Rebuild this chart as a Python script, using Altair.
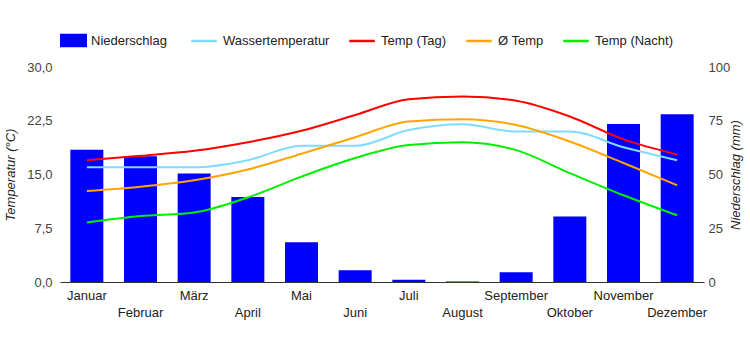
import altair as alt
import pandas as pd

months = ["Januar", "Februar", "März", "April", "Mai", "Juni", "Juli",
          "August", "September", "Oktober", "November", "Dezember"]
niederschlag = [61.5, 58.5, 50.5, 39.5, 18.5, 5.5, 1.0, 0.2, 4.5, 30.5, 73.5, 78.0]
wasser = [16.0, 16.0, 16.0, 17.0, 19.0, 19.0, 21.2, 22.0, 21.0, 21.0, 18.8, 17.0]
temp_tag = [17.0, 17.6, 18.3, 19.5, 21.1, 23.3, 25.5, 25.9, 25.3, 23.1, 19.9, 17.8]
temp_avg = [12.7, 13.3, 14.2, 15.7, 17.9, 20.2, 22.4, 22.7, 21.9, 19.6, 16.6, 13.5]
temp_nacht = [8.3, 9.2, 9.7, 11.8, 14.7, 17.3, 19.1, 19.5, 18.4, 15.2, 12.1, 9.3]

line_series = ["Wassertemperatur", "Temp (Tag)", "Ø Temp", "Temp (Nacht)"]
line_colors = ["#80dcff", "#ff0000", "#ffa500", "#00ee00"]
left_ticks = [0, 7.5, 15, 22.5, 30]
right_ticks = [0, 25, 50, 75, 100]

FONT = "Liberation Sans"

bar_df = pd.DataFrame({"Monat": months, "idx": list(range(12)),
                       "Wert": niederschlag, "Serie": ["Niederschlag"] * 12})

rows = []
for name, vals in zip(line_series, [wasser, temp_tag, temp_avg, temp_nacht]):
    for i, (m, v) in enumerate(zip(months, vals)):
        rows.append({"Monat": m, "idx": i, "Wert": v, "Serie": name})
line_df = pd.DataFrame(rows)

even_months = months[1::2]
x_label_expr = ("indexof(" + str(even_months).replace('"', "'") +
                ", datum.label) >= 0 ? ['', datum.label] : datum.label")

x_enc = alt.X(
    "Monat:N", sort=months, title=None,
    scale=alt.Scale(paddingInner=0, paddingOuter=0),
    axis=alt.Axis(labelAngle=0, ticks=False, domain=True, domainColor="#333",
                  domainWidth=1, labelPadding=7, labelFont=FONT, labelFontSize=13,
                  labelColor="#222", labelExpr=x_label_expr, labelLineHeight=17,
                  labelBaseline="top", grid=False),
)

bars = alt.Chart(bar_df).mark_bar(width=33).encode(
    x=x_enc,
    y=alt.Y("Wert:Q", scale=alt.Scale(domain=[0, 100], nice=False),
            axis=alt.Axis(orient="right", values=right_ticks, grid=False, ticks=False,
                          domain=False, labelPadding=4, labelFont=FONT, labelFontSize=13,
                          labelColor="#444", title="Niederschlag (mm)", titleFont=FONT,
                          titleFontSize=13, titleFontStyle="italic", titleFontWeight="normal",
                          titleColor="#222", titleAngle=270, titlePadding=13)),
    fill=alt.Fill("Serie:N", scale=alt.Scale(domain=["Niederschlag"], range=["#0000ff"]),
                  legend=alt.Legend(orient="none", legendX=0, legendY=-40, title=None,
                                    symbolType="M-1,-0.5H1V0.5H-1Z", symbolSize=729,
                                    symbolStrokeWidth=0, labelFont=FONT, labelFontSize=13,
                                    labelColor="#222", labelOffset=4)),
)

lines = alt.Chart(line_df).mark_line(interpolate="monotone", strokeWidth=2).encode(
    x=x_enc,
    y=alt.Y("Wert:Q", scale=alt.Scale(domain=[0, 30], nice=False),
            axis=alt.Axis(orient="left", values=left_ticks, ticks=False, domain=False,
                          gridColor="#cccccc", labelPadding=8, labelFont=FONT,
                          labelFontSize=13, labelColor="#444",
                          labelExpr="replace(format(datum.value, '.1f'), '.', ',')",
                          title="Temperatur (°C)", titleFont=FONT, titleFontSize=13,
                          titleFontStyle="italic", titleFontWeight="normal",
                          titleColor="#222", titlePadding=9)),
    stroke=alt.Stroke("Serie:N", scale=alt.Scale(domain=line_series, range=line_colors),
                      legend=alt.Legend(orient="none", legendX=130, legendY=-40, title=None,
                                        direction="horizontal", symbolType="stroke",
                                        symbolSize=650, symbolStrokeWidth=2.5,
                                        columnPadding=14, labelFont=FONT, labelFontSize=13,
                                        labelColor="#222", labelOffset=5)),
    order=alt.Order("idx:Q"),
)

chart = alt.layer(bars, lines).resolve_scale(y="independent").properties(
    width=644, height=215,
    padding={"left": 60, "top": 67, "right": 46, "bottom": 68},
    autosize="none",
).configure_view(stroke=None)

chart.save("out.html", embed_options={"renderer": "svg", "actions": False})
